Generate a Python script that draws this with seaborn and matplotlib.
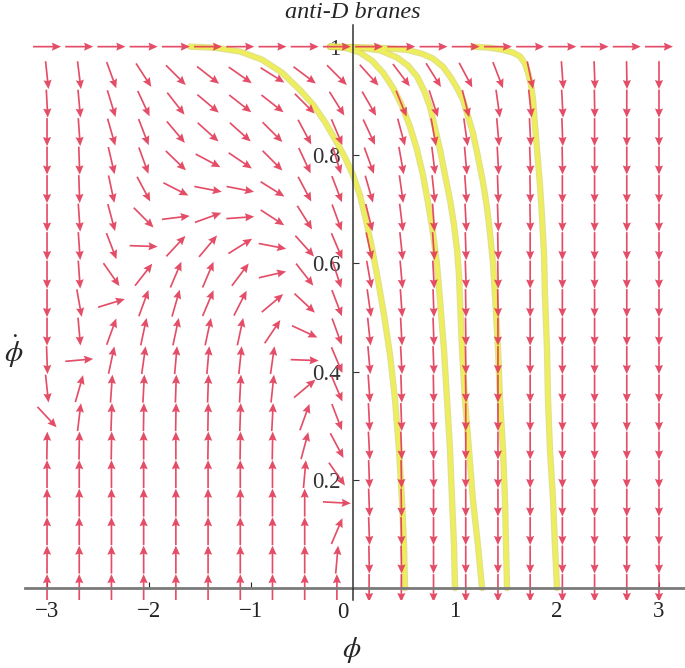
import numpy as np
import pandas as pd
import matplotlib
matplotlib.use("Agg")
import matplotlib.pyplot as plt
import seaborn as sns

# ---------------- data ----------------
# vector-field sampling grid (20 x 20) : phi in [-3, 3], phidot in [0, 1]
phi_grid = np.linspace(-3, 3, 20)
phidot_grid = np.linspace(0, 1, 20)

# arrow directions (degrees, screen orientation), rows from top (phidot=1) to bottom (phidot=0)
angle_rows = [
    [0] * 20,
    [-84, -83, -70, -57, -45, -38, -35, -32, -37, -45, -48, -53, -58, -62, -69, -78, -86, -88, -89, -90],
    [-87, -85, -73, -65, -52, -40, -38, -38, -45, -58, -60, -68, -72, -76, -82, -84, -87, -89, -90, -90],
    [-90, -86, -74, -69, -50, -42, -42, -45, -62, -67, -65, -75, -80, -82, -85, -87, -88, -90, -90, -90],
    [-90, -88, -77, -70, -44, -28, -34, -45, -65, -73, -70, -80, -83, -85, -87, -88, -89, -90, -90, -90],
    [-90, -88, -78, -62, -27, -11, -11, -32, -62, -69, -74, -82, -84, -86, -88, -89, -90, -90, -90, -90],
    [-90, -86, -75, -45, 7, 20, 4, -33, -58, -70, -76, -83, -86, -87, -88, -89, -90, -90, -90, -90],
    [-90, -86, -69, -2, 47, 50, 32, -11, -48, -67, -78, -84, -86, -88, -89, -90, -90, -90, -90, -90],
    [-90, -86, -55, 52, 67, 67, 53, 13, -52, -72, -80, -85, -87, -88, -89, -90, -90, -90, -90, -90],
    [-90, -80, 17, 70, 74, 67, 63, 40, -43, -69, -82, -86, -88, -89, -89, -90, -90, -90, -90, -90],
    [-90, -85, 70, 78, 78, 78, 78, 56, -25, -70, -84, -87, -88, -89, -90, -90, -90, -90, -90, -90],
    [-88, 5, 78, 82, 85, 85, 84, 82, -2, -67, -85, -87, -88, -89, -90, -90, -90, -90, -90, -90],
    [-84, 74, 86, 87, 88, 88, 87, 84, 40, -67, -86, -88, -89, -89, -90, -90, -90, -90, -90, -90],
    [-47, 83, 88, 89, 89, 89, 88, 87, 70, -69, -87, -88, -89, -90, -90, -90, -90, -90, -90, -90],
    [89, 89, 89, 90, 90, 89, 89, 89, 75, -62, -87, -88, -89, -90, -90, -90, -90, -90, -90, -90],
    [90, 90, 90, 90, 90, 90, 90, 90, 85, -55, -88, -89, -89, -90, -90, -90, -90, -90, -90, -90],
    [90, 90, 90, 90, 90, 90, 90, 90, 90, -3, -88, -89, -90, -90, -90, -90, -90, -90, -90, -90],
    [90, 90, 90, 90, 90, 90, 90, 90, 90, 67, -88, -89, -90, -90, -90, -90, -90, -90, -90, -90],
    [90, 90, 90, 90, 90, 90, 90, 90, 90, 85, -89, -89, -90, -90, -90, -90, -90, -90, -90, -90],
    [90, 90, 90, 90, 90, 90, 90, 90, 90, 90, -90, -90, -90, -90, -90, -90, -90, -90, -90, -90],
]

# trajectories (yellow curves)
traj_A_phi = [-1.598, -1.353, -1.108, -0.892, -0.696, -0.520, -0.392, -0.275, -0.167, -0.078, 0.0,
              0.069, 0.127, 0.186, 0.245, 0.304, 0.363, 0.412, 0.451, 0.480, 0.500, 0.510]
traj_A_dot = [1.000, 0.998, 0.991, 0.976, 0.952, 0.920, 0.893, 0.861, 0.826, 0.795, 0.763,
              0.725, 0.680, 0.628, 0.569, 0.505, 0.431, 0.348, 0.255, 0.163, 0.079, 0.0]
traj_B_phi = [-0.225, -0.078, 0.069, 0.186, 0.294, 0.392, 0.480, 0.559, 0.627, 0.686,
              0.735, 0.784, 0.824, 0.853, 0.892, 0.922, 0.951, 0.971, 0.990, 1.000]
traj_B_dot = [1.000, 0.998, 0.989, 0.974, 0.952, 0.924, 0.891, 0.852, 0.810, 0.763,
              0.712, 0.656, 0.597, 0.532, 0.440, 0.348, 0.255, 0.163, 0.079, 0.0]
traj_C_phi = [-0.225, 0.069, 0.265, 0.431, 0.539, 0.627, 0.696, 0.755, 0.804, 0.853, 0.902,
              0.951, 0.990, 1.020, 1.039, 1.049, 1.069, 1.098, 1.137, 1.176, 1.225, 1.265]
traj_C_dot = [1.000, 0.998, 0.993, 0.980, 0.965, 0.945, 0.919, 0.889, 0.850, 0.810, 0.763,
              0.717, 0.671, 0.625, 0.579, 0.532, 0.440, 0.348, 0.255, 0.163, 0.079, 0.0]
traj_D_phi = [-0.225, 0.265, 0.529, 0.676, 0.784, 0.882, 0.951, 1.020, 1.078, 1.127, 1.176, 1.225,
              1.275, 1.314, 1.343, 1.373, 1.392, 1.422, 1.441, 1.471, 1.490, 1.500, 1.510]
traj_D_dot = [1.000, 0.998, 0.994, 0.987, 0.978, 0.963, 0.945, 0.924, 0.902, 0.872, 0.841, 0.797,
              0.749, 0.702, 0.656, 0.599, 0.542, 0.440, 0.348, 0.255, 0.163, 0.079, 0.0]
traj_E_phi = [1.176, 1.343, 1.471, 1.569, 1.637, 1.686, 1.716, 1.745, 1.765, 1.784, 1.804,
              1.833, 1.853, 1.873, 1.882, 1.902, 1.912, 1.931, 1.961, 1.980, 2.000]
traj_E_dot = [1.000, 0.998, 0.994, 0.989, 0.982, 0.969, 0.952, 0.930, 0.902, 0.856, 0.810,
              0.745, 0.686, 0.616, 0.542, 0.440, 0.348, 0.255, 0.163, 0.079, 0.0]

x_ticks = [-3, -2, -1, 1, 2, 3]
x_ticklabels = ["\u22123", "\u22122", "\u22121", "1", "2", "3"]
y_ticks = [0.2, 0.4, 0.6, 0.8, 1.0]
y_ticklabels = ["0.2", "0.4", "0.6", "0.8", "1"]

# ---------------- style ----------------
sns.set_theme(style="white")
plt.rcParams["font.family"] = ["Liberation Serif", "DejaVu Serif"]
plt.rcParams["mathtext.fontset"] = "stix"

W, H = 685, 668
fig = plt.figure(figsize=(W / 100, H / 100), dpi=100)
ax = fig.add_axes([25 / W, 68 / H, 660 / W, 575 / H])
ax.set_xlim(-3.216, 3.255)
ax.set_ylim(-0.022, 1.04)
ax.grid(False)

# trajectories
rows = []
for name, xs, ys in [("A", traj_A_phi, traj_A_dot), ("B", traj_B_phi, traj_B_dot),
                     ("C", traj_C_phi, traj_C_dot), ("D", traj_D_phi, traj_D_dot),
                     ("E", traj_E_phi, traj_E_dot)]:
    for i, (a, b) in enumerate(zip(xs, ys)):
        rows.append({"curve": name, "order": i, "phi": a, "phidot": b})
traj = pd.DataFrame(rows)
for name, g in traj.groupby("curve"):
    sns.lineplot(data=g, x="phi", y="phidot", sort=False, estimator=None, ax=ax,
                 color="#cccc48", lw=4.6, alpha=0.6, zorder=1.4,
                 solid_joinstyle="round", solid_capstyle="round")
    sns.lineplot(data=g, x="phi", y="phidot", sort=False, estimator=None, ax=ax,
                 color="#eeee5c", lw=3.0, zorder=1.5,
                 solid_joinstyle="round", solid_capstyle="round")

# vector field
X, Y = np.meshgrid(phi_grid, phidot_grid)
ang = np.deg2rad(np.array(angle_rows[::-1], dtype=float))
U, V = np.cos(ang), np.sin(ang)
ax.quiver(X, Y, U, V, angles="uv", pivot="middle", scale_units="inches",
          scale=1 / 0.28, units="dots", width=1.7, headwidth=4.8,
          headlength=5.4, headaxislength=4.8, color="#e23a56", alpha=0.9,
          zorder=2)

# axes through origin
for s in ["top", "right"]:
    ax.spines[s].set_visible(False)
ax.spines["left"].set_position(("data", 0))
ax.spines["bottom"].set_position(("data", 0))
ax.spines["left"].set_color("#333333")
ax.spines["left"].set_linewidth(1.1)
ax.spines["bottom"].set_color("#7a7a7a")
ax.spines["bottom"].set_linewidth(2.0)
ax.spines["left"].set_zorder(3)

ax.set_xticks(x_ticks)
ax.set_xticklabels(x_ticklabels)
ax.set_yticks(y_ticks)
ax.set_yticklabels(y_ticklabels)
ax.tick_params(axis="x", direction="in", length=4, width=0.8, pad=9,
               labelsize=16.5, colors="#222222", bottom=True)
ax.tick_params(axis="y", direction="in", length=4, width=0.8, pad=9,
               labelsize=16.5, colors="#333333", left=True)
ax.set_xlabel("")
ax.set_ylabel("")
ax.text(-0.04, -0.026, "0", ha="right", va="top", fontsize=16.5, color="#222222",
        transform=ax.transData)

fig.text(353 / W, 1 - 12 / H, "anti-D branes", ha="center", va="center",
         fontsize=17.5, style="italic")
fig.text(14 / W, 1 - 352 / H, r"$\dot{\phi}$", ha="center", va="center", fontsize=21)
fig.text(352 / W, 1 - 650 / H, r"$\phi$", ha="center", va="center", fontsize=21)

fig.savefig("out.png", dpi=100)
